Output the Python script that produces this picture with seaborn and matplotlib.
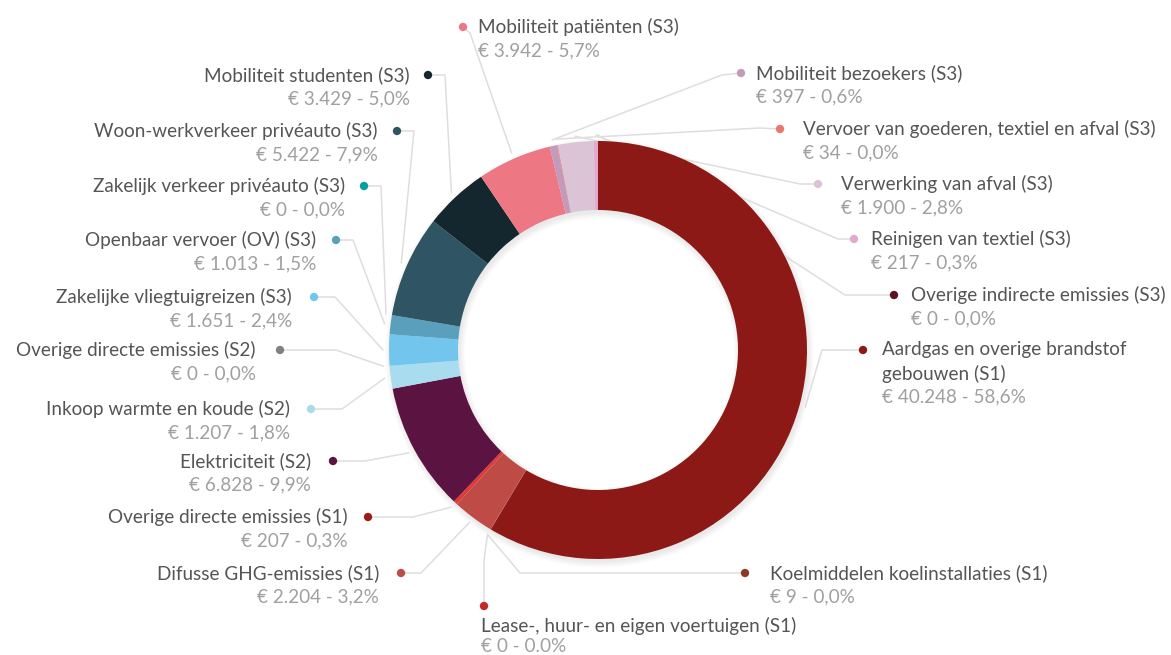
import numpy as np
import matplotlib
matplotlib.use("Agg")
import matplotlib.pyplot as plt
from matplotlib.patches import Wedge
import seaborn as sns

# ---------------- data ----------------
categories = [
    "Aardgas en overige brandstof\ngebouwen (S1)",
    "Koelmiddelen koelinstallaties (S1)",
    "Lease-, huur- en eigen voertuigen (S1)",
    "Difusse GHG-emissies (S1)",
    "Overige directe emissies (S1)",
    "Elektriciteit (S2)",
    "Inkoop warmte en koude (S2)",
    "Overige directe emissies (S2)",
    "Zakelijke vliegtuigreizen (S3)",
    "Openbaar vervoer (OV) (S3)",
    "Zakelijk verkeer privéauto (S3)",
    "Woon-werkverkeer privéauto (S3)",
    "Mobiliteit studenten (S3)",
    "Mobiliteit patiënten (S3)",
    "Mobiliteit bezoekers (S3)",
    "Vervoer van goederen, textiel en afval (S3)",
    "Verwerking van afval (S3)",
    "Reinigen van textiel (S3)",
    "Overige indirecte emissies (S3)",
]
values = [40248, 9, 0, 2204, 207, 6828, 1207, 0, 1651, 1013, 0, 5422,
          3429, 3942, 397, 34, 1900, 217, 0]
value_labels = [
    "€ 40.248 - 58,6%", "€ 9 - 0,0%", "€ 0 - 0.0%", "€ 2.204 - 3,2%",
    "€ 207 - 0,3%", "€ 6.828 - 9,9%", "€ 1.207 - 1,8%", "€ 0 - 0,0%",
    "€ 1.651 - 2,4%", "€ 1.013 - 1,5%", "€ 0 - 0,0%", "€ 5.422 - 7,9%",
    "€ 3.429 - 5,0%", "€ 3.942 - 5,7%", "€ 397 - 0,6%", "€ 34 - 0,0%",
    "€ 1.900 - 2,8%", "€ 217 - 0,3%", "€ 0 - 0,0%",
]

# ---------------- styles ----------------
slice_colors = ["#8c1915", "#8e3a22", "#c62828", "#bf4b47", "#e23a33",
                "#5b1441", "#a9dcef", "#808080", "#72c6ee", "#5a9fbc",
                "#00a19a", "#2f5565", "#14262e", "#ee7784", "#c49abb",
                "#e8776f", "#dbc4d6", "#e3a9cd", "#5e1024"]
dot_colors = list(slice_colors)
dot_colors[4] = "#9b1b1b"

# layout (pixel coords, y measured from the top of the image)
W, H = 1171, 655
cx, cy = 598, 350
R_OUT, R_IN = 209, 140

dot_pos = [(863, 350), (745, 573), (484, 606), (401, 573), (368, 517),
           (333, 461), (311, 409), (280, 350), (314, 297), (336, 240),
           (364, 186), (397, 131), (428, 75), (463, 27), (741, 73),
           (780, 129), (818, 184), (854, 239), (894, 295)]
elbow_pos = [(822, 350), (520, 573), (484, 560), (421, 573), (413, 517),
             (365, 461), (342, 409), (336, 350), (335, 297), (353, 240),
             (381, 186), (414, 131), (445, 75), (470, 33), (722, 75),
             (760, 128), (800, 184), (838, 239), (845, 295)]
# text anchor x, side
text_pos = [(882, "l"), (770, "l"), (481, "b"), (379, "r"), (348, "r"),
            (311, "r"), (290, "r"), (256, "r"), (292, "r"), (316, "r"),
            (345, "r"), (378, "r"), (410, "r"), (478, "l"), (756, "l"),
            (803, "l"), (841, "l"), (871, "l"), (911, "l")]

sns.set_theme(style="white")
plt.rcParams["font.family"] = ["Lato", "DejaVu Sans"]

fig = plt.figure(figsize=(W / 100, H / 100), dpi=100)
ax = fig.add_axes([0, 0, 1, 1])

def Y(y):
    return H - y

# soft shadow
for i in range(7):
    ax.add_patch(Wedge((cx + 1.5, Y(cy) - 3), R_OUT + i * 0.9, 0, 360,
                       width=(R_OUT - R_IN) + 2 * i * 0.9,
                       facecolor="black", edgecolor="none", alpha=0.010,
                       zorder=1))

wedges, _ = ax.pie(values, colors=slice_colors, startangle=90,
                   counterclock=False, radius=R_OUT, center=(cx, Y(cy)),
                   wedgeprops=dict(width=R_OUT - R_IN, edgecolor="none",
                                   linewidth=0))
for w in wedges:
    w.set_zorder(3)

# connectors
total = float(sum(values))
cum = np.cumsum([0] + values)
for i, v in enumerate(values):
    mid = (cum[i] + v / 2) / total * 2 * np.pi
    rs = R_OUT + 6
    sx = cx + rs * np.sin(mid)
    sy = cy - rs * np.cos(mid)
    ex, ey = elbow_pos[i]
    dx, dy = dot_pos[i]
    ax.plot([sx, ex, dx], [Y(sy), Y(ey), Y(dy)], color="#dedede",
            lw=1.1, zorder=2, solid_capstyle="round")

# dots
sns.scatterplot(x=[p[0] for p in dot_pos], y=[Y(p[1]) for p in dot_pos],
                hue=categories, palette=dict(zip(categories, dot_colors)),
                legend=False, s=36, linewidth=0, ax=ax, zorder=5)

# labels
FS = 13.6
LH = 23.5
for i, cat in enumerate(categories):
    tx, side = text_pos[i]
    dx, dy = dot_pos[i]
    lines = cat.split("\n")
    if side == "b":
        y0 = 626
        ha = "left"
        lh = 20.5
    else:
        y0 = dy
        ha = "right" if side == "r" else "left"
        lh = LH
    for j, ln in enumerate(lines):
        ax.text(tx, Y(y0 + j * lh), ln, ha=ha, va="center", fontsize=FS,
                color="#555555", zorder=6)
    ax.text(tx, Y(y0 + len(lines) * lh), value_labels[i], ha=ha,
            va="center", fontsize=FS, color="#a0a0a0", fontweight="normal",
            zorder=6)

ax.set_xlim(0, W)
ax.set_ylim(0, H)
ax.set_aspect("equal")
ax.axis("off")
fig.savefig("out.png", dpi=100, facecolor="white")
